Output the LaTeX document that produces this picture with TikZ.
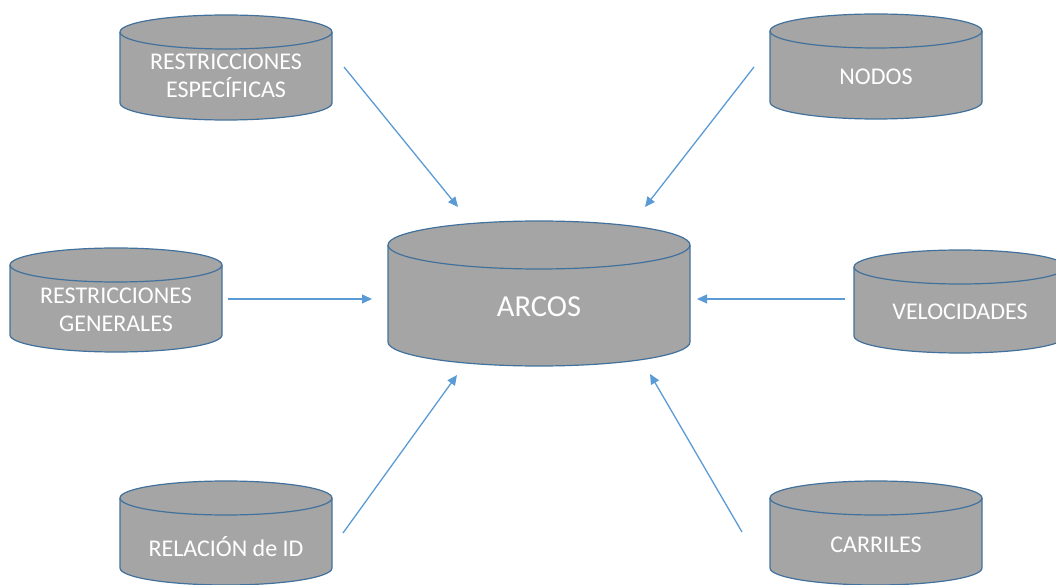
\documentclass[tikz,border=0pt]{standalone}
\usepackage{fontspec}
\setmainfont{Carlito}
\usetikzlibrary{arrows.meta}
\definecolor{cylfill}{HTML}{A5A5A5}
\definecolor{cylline}{HTML}{41719C}
\definecolor{arrowblue}{HTML}{5B9BD5}
\tikzset{
  cylshape/.style={fill=cylfill, draw=cylline, line width=1.2pt},
  cyltext/.style={text=white, font=\fontsize{24}{28}\selectfont, align=center, inner sep=0pt},
  bigtext/.style={text=white, font=\fontsize{30.5}{34}\selectfont, align=center, inner sep=0pt},
  conn/.style={draw=arrowblue, line width=1.3pt, -{Triangle[length=10pt,width=9pt]}}
}
% #1 name, #2 cx, #3 Y of top ellipse centre, #4 rx, #5 ry, #6 body height, #7 text Y, #8 text style, #9 text
\newcommand{\dbcyl}[9]{%
  \path[cylshape] (#2-#4,#3) -- (#2-#4,#3-#6)
     arc[start angle=180, end angle=360, x radius=#4pt, y radius=#5pt]
     -- (#2+#4,#3)
     arc[start angle=0, end angle=180, x radius=#4pt, y radius=#5pt] -- cycle;
  \draw[draw=cylline, line width=1.2pt] (#2-#4,#3)
     arc[start angle=180, end angle=360, x radius=#4pt, y radius=#5pt];
  \node[#8] (#1) at (#2,#7) {#9};
}
\begin{document}
\begin{tikzpicture}[x=1pt,y=1pt]
\useasboundingbox (0,0) rectangle (1056,584);
\clip (0,0) rectangle (1056,584);
\dbcyl{resp}{226}{552}{106}{17}{71}{508}{cyltext}{RESTRICCIONES\\ESPECÍFICAS}
\dbcyl{nodos}{876}{553}{106}{17}{71}{507}{cyltext}{NODOS}
\dbcyl{rgen}{116}{319}{106}{17}{70}{274}{cyltext}{RESTRICCIONES\\GENERALES}
\dbcyl{arcos}{539}{339}{151}{24}{97}{277}{bigtext}{ARCOS}
\dbcyl{vel}{960}{317}{106}{17}{69}{272}{cyltext}{VELOCIDADES}
\dbcyl{rid}{226}{86}{106}{17}{70}{37}{cyltext}{RELACIÓN de ID}
\dbcyl{carr}{876}{86}{106}{17}{70}{39}{cyltext}{CARRILES}
% connector end points
\coordinate (a1s) at (344,517); \coordinate (a1e) at (458,377);
\coordinate (a2s) at (754,517); \coordinate (a2e) at (645,377);
\coordinate (a3s) at (228,285); \coordinate (a3e) at (372,285);
\coordinate (a4s) at (845,285); \coordinate (a4e) at (697,285);
\coordinate (a5s) at (343,51);  \coordinate (a5e) at (457,209);
\coordinate (a6s) at (742,52);  \coordinate (a6e) at (650,210);
\draw[conn] (a1s) -- (a1e);
\draw[conn] (a2s) -- (a2e);
\draw[conn] (a3s) -- (a3e);
\draw[conn] (a4s) -- (a4e);
\draw[conn] (a5s) -- (a5e);
\draw[conn] (a6s) -- (a6e);
\end{tikzpicture}
\end{document}
